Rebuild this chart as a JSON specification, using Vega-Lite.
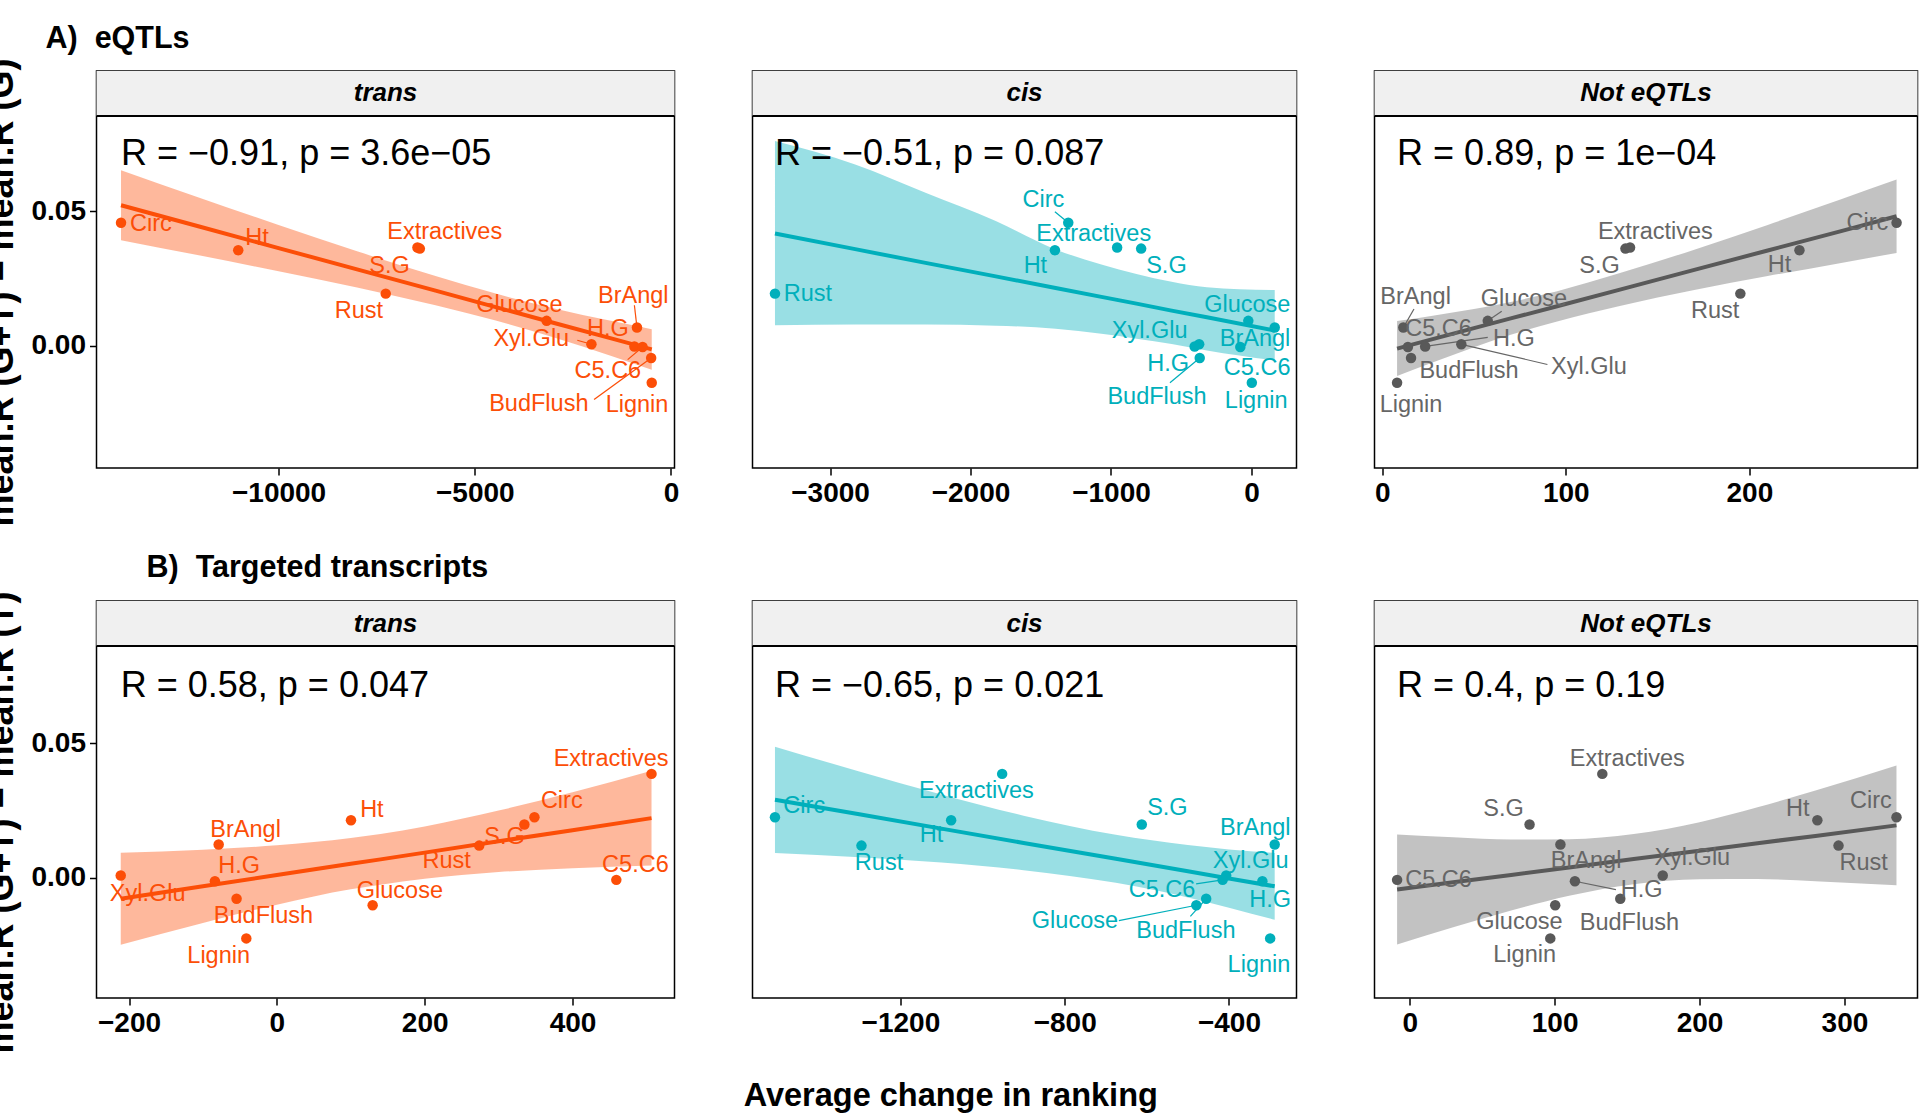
{
 "$schema": "https://vega.github.io/schema/vega-lite/v6.json",
 "padding": {"left": -18.5, "top": 23, "right": 5, "bottom": 5},
 "title": {"text": "Average change in ranking", "orient": "bottom", "anchor": "middle", "fontSize": 32.5, "fontWeight": "bold", "color": "black", "offset": 26},
 "bounds": "flush",
 "columns": 3,
 "spacing": {"row": 133, "column": 78},
 "resolve": {"scale": {"x": "independent", "y": "independent"}},
 "datasets": {
  "strips": [
   {"panel": "A_trans", "label": "trans"}, {"panel": "A_cis", "label": "cis"}, {"panel": "A_not", "label": "Not eQTLs"},
   {"panel": "B_trans", "label": "trans"}, {"panel": "B_cis", "label": "cis"}, {"panel": "B_not", "label": "Not eQTLs"}
  ],
  "stats": [
   {"panel": "A_trans", "label": "R = −0.91, p = 3.6e−05", "x": -14015, "y": 0.067},
   {"panel": "A_cis", "label": "R = −0.51, p = 0.087", "x": -3392, "y": 0.067},
   {"panel": "A_not", "label": "R = 0.89, p = 1e−04", "x": 8.1, "y": 0.067},
   {"panel": "B_trans", "label": "R = 0.58, p = 0.047", "x": -211.2, "y": 0.067},
   {"panel": "B_cis", "label": "R = −0.65, p = 0.021", "x": -1505.3, "y": 0.067},
   {"panel": "B_not", "label": "R = 0.4, p = 0.19", "x": -8.7, "y": 0.067}
  ],
  "band": [
   {"panel": "A_trans", "x": -14015, "lo": 0.0392, "hi": 0.0652, "fit": 0.0522},
   {"panel": "A_trans", "x": -12000, "lo": 0.0335, "hi": 0.0549, "fit": 0.0442},
   {"panel": "A_trans", "x": -10000, "lo": 0.0277, "hi": 0.0449, "fit": 0.0363},
   {"panel": "A_trans", "x": -8000, "lo": 0.0217, "hi": 0.0351, "fit": 0.0284},
   {"panel": "A_trans", "x": -6000, "lo": 0.0151, "hi": 0.0259, "fit": 0.0205},
   {"panel": "A_trans", "x": -4467, "lo": 0.0094, "hi": 0.0194, "fit": 0.0144},
   {"panel": "A_trans", "x": -3000, "lo": 0.0032, "hi": 0.0140, "fit": 0.0086},
   {"panel": "A_trans", "x": -1500, "lo": -0.0038, "hi": 0.0092, "fit": 0.0027},
   {"panel": "A_trans", "x": -490, "lo": -0.0088, "hi": 0.0062, "fit": -0.0013},
   {"panel": "A_cis", "x": -3392, "lo": 0.0077, "hi": 0.0760, "fit": 0.0417},
   {"panel": "A_cis", "x": -2821, "lo": 0.0079, "hi": 0.0673, "fit": 0.0359},
   {"panel": "A_cis", "x": -2320, "lo": 0.0079, "hi": 0.0568, "fit": 0.0308},
   {"panel": "A_cis", "x": -1820, "lo": 0.0075, "hi": 0.0463, "fit": 0.0258},
   {"panel": "A_cis", "x": -1394, "lo": 0.0064, "hi": 0.0358, "fit": 0.0215},
   {"panel": "A_cis", "x": -1068, "lo": 0.0045, "hi": 0.0302, "fit": 0.0182},
   {"panel": "A_cis", "x": -818, "lo": 0.0027, "hi": 0.0267, "fit": 0.0157},
   {"panel": "A_cis", "x": -568, "lo": 0.0007, "hi": 0.0238, "fit": 0.0131},
   {"panel": "A_cis", "x": -317, "lo": -0.0017, "hi": 0.0218, "fit": 0.0106},
   {"panel": "A_cis", "x": 166, "lo": -0.0054, "hi": 0.0207, "fit": 0.0057},
   {"panel": "A_not", "x": 8.1, "lo": -0.0112, "hi": 0.0092, "fit": -0.0010},
   {"panel": "A_not", "x": 30, "lo": -0.0055, "hi": 0.0115, "fit": 0.0030},
   {"panel": "A_not", "x": 50, "lo": -0.0005, "hi": 0.0137, "fit": 0.0066},
   {"panel": "A_not", "x": 70, "lo": 0.0041, "hi": 0.0163, "fit": 0.0102},
   {"panel": "A_not", "x": 95.3, "lo": 0.0091, "hi": 0.0203, "fit": 0.0147},
   {"panel": "A_not", "x": 130, "lo": 0.0149, "hi": 0.0271, "fit": 0.0210},
   {"panel": "A_not", "x": 170, "lo": 0.0207, "hi": 0.0357, "fit": 0.0282},
   {"panel": "A_not", "x": 210, "lo": 0.0259, "hi": 0.0449, "fit": 0.0354},
   {"panel": "A_not", "x": 250, "lo": 0.0308, "hi": 0.0544, "fit": 0.0426},
   {"panel": "A_not", "x": 280.2, "lo": 0.0345, "hi": 0.0617, "fit": 0.0481},
   {"panel": "B_trans", "x": -211.2, "lo": -0.0248, "hi": 0.0094, "fit": -0.0077},
   {"panel": "B_trans", "x": -100, "lo": -0.0167, "hi": 0.0105, "fit": -0.0031},
   {"panel": "B_trans", "x": 0, "lo": -0.0099, "hi": 0.0121, "fit": 0.0011},
   {"panel": "B_trans", "x": 100, "lo": -0.0042, "hi": 0.0148, "fit": 0.0053},
   {"panel": "B_trans", "x": 140.3, "lo": -0.0025, "hi": 0.0163, "fit": 0.0069},
   {"panel": "B_trans", "x": 200, "lo": -0.0003, "hi": 0.0191, "fit": 0.0094},
   {"panel": "B_trans", "x": 300, "lo": 0.0022, "hi": 0.0250, "fit": 0.0136},
   {"panel": "B_trans", "x": 400, "lo": 0.0036, "hi": 0.0318, "fit": 0.0177},
   {"panel": "B_trans", "x": 506.9, "lo": 0.0046, "hi": 0.0398, "fit": 0.0222},
   {"panel": "B_cis", "x": -1505.3, "lo": 0.0093, "hi": 0.0487, "fit": 0.0290},
   {"panel": "B_cis", "x": -1300, "lo": 0.0077, "hi": 0.0395, "fit": 0.0236},
   {"panel": "B_cis", "x": -1100, "lo": 0.0057, "hi": 0.0310, "fit": 0.0183},
   {"panel": "B_cis", "x": -900, "lo": 0.0029, "hi": 0.0231, "fit": 0.0130},
   {"panel": "B_cis", "x": -675.4, "lo": -0.0018, "hi": 0.0160, "fit": 0.0071},
   {"panel": "B_cis", "x": -500, "lo": -0.0072, "hi": 0.0122, "fit": 0.0025},
   {"panel": "B_cis", "x": -400, "lo": -0.0110, "hi": 0.0106, "fit": -0.0002},
   {"panel": "B_cis", "x": -288.7, "lo": -0.0155, "hi": 0.0093, "fit": -0.0031},
   {"panel": "B_not", "x": -8.7, "lo": -0.0247, "hi": 0.0161, "fit": -0.0043},
   {"panel": "B_not", "x": 30, "lo": -0.0183, "hi": 0.0151, "fit": -0.0016},
   {"panel": "B_not", "x": 70, "lo": -0.0121, "hi": 0.0143, "fit": 0.0011},
   {"panel": "B_not", "x": 110, "lo": -0.0066, "hi": 0.0144, "fit": 0.0039},
   {"panel": "B_not", "x": 154.6, "lo": -0.0023, "hi": 0.0163, "fit": 0.0070},
   {"panel": "B_not", "x": 200, "lo": -0.0005, "hi": 0.0207, "fit": 0.0101},
   {"panel": "B_not", "x": 240, "lo": -0.0004, "hi": 0.0262, "fit": 0.0129},
   {"panel": "B_not", "x": 280, "lo": -0.0012, "hi": 0.0324, "fit": 0.0156},
   {"panel": "B_not", "x": 335.9, "lo": -0.0027, "hi": 0.0417, "fit": 0.0195}
  ],
  "pts": [
   {"panel": "A_trans", "trait": "Circ", "x": -14015, "y": 0.0457, "lx": -13254, "ly": 0.0454},
   {"panel": "A_trans", "trait": "Ht", "x": -11028, "y": 0.0355, "lx": -10552, "ly": 0.0399},
   {"panel": "A_trans", "trait": "Extractives", "x": -6461, "y": 0.0365, "lx": -5766, "ly": 0.0423},
   {"panel": "A_trans", "trait": "S.G", "x": -6400, "y": 0.0361, "lx": -7174, "ly": 0.0296},
   {"panel": "A_trans", "trait": "Rust", "x": -7269, "y": 0.0194, "lx": -7954, "ly": 0.0131},
   {"panel": "A_trans", "trait": "Glucose", "x": -3168, "y": 0.0093, "lx": -3863, "ly": 0.0151},
   {"panel": "A_trans", "trait": "BrAngl", "x": -866, "y": 0.0068, "lx": -961, "ly": 0.0184, "sx": -932, "sy": 0.0151},
   {"panel": "A_trans", "trait": "H.G", "x": -932, "y": -0.0002, "lx": -1608, "ly": 0.0063},
   {"panel": "A_trans", "trait": "Xyl.Glu", "x": -2027, "y": 0.0006, "lx": -3559, "ly": 0.0024, "sx": -2388, "sy": 0.0021},
   {"panel": "A_trans", "trait": "C5.C6", "x": -723, "y": -0.0004, "lx": -1608, "ly": -0.0092, "sx": -1104, "sy": -0.0051},
   {"panel": "A_trans", "trait": "BudFlush", "x": -505, "y": -0.0045, "lx": -3368, "ly": -0.0215, "sx": -1960, "sy": -0.0199},
   {"panel": "A_trans", "trait": "Lignin", "x": -490, "y": -0.0137, "lx": -866, "ly": -0.0218},
   {"panel": "A_cis", "trait": "Rust", "x": -3392, "y": 0.0194, "lx": -3158, "ly": 0.0191},
   {"panel": "A_cis", "trait": "Circ", "x": -1304, "y": 0.0457, "lx": -1481, "ly": 0.0540, "sx": -1399, "sy": 0.0498},
   {"panel": "A_cis", "trait": "Ht", "x": -1399, "y": 0.0355, "lx": -1538, "ly": 0.0296},
   {"panel": "A_cis", "trait": "Extractives", "x": -956, "y": 0.0365, "lx": -1123, "ly": 0.0417},
   {"panel": "A_cis", "trait": "S.G", "x": -785, "y": 0.0361, "lx": -605, "ly": 0.0296},
   {"panel": "A_cis", "trait": "Glucose", "x": -22, "y": 0.0093, "lx": -29, "ly": 0.0150},
   {"panel": "A_cis", "trait": "BrAngl", "x": 166, "y": 0.0068, "lx": 26, "ly": 0.0027},
   {"panel": "A_cis", "trait": "Xyl.Glu", "x": -372, "y": 0.0006, "lx": -725, "ly": 0.0054},
   {"panel": "A_cis", "trait": "H.G", "x": -404, "y": -0.0002, "lx": -592, "ly": -0.0067},
   {"panel": "A_cis", "trait": "C5.C6", "x": -79, "y": -0.0004, "lx": 41, "ly": -0.0082},
   {"panel": "A_cis", "trait": "BudFlush", "x": -368, "y": -0.0045, "lx": -672, "ly": -0.0191, "sx": -580, "sy": -0.0137},
   {"panel": "A_cis", "trait": "Lignin", "x": 3, "y": -0.0137, "lx": 34, "ly": -0.0205},
   {"panel": "A_not", "trait": "Lignin", "x": 8.1, "y": -0.0137, "lx": 15.7, "ly": -0.0218},
   {"panel": "A_not", "trait": "BrAngl", "x": 11.5, "y": 0.0068, "lx": 18.2, "ly": 0.0181, "sx": 17.3, "sy": 0.0137},
   {"panel": "A_not", "trait": "C5.C6", "x": 14.0, "y": -0.0004, "lx": 30.7, "ly": 0.0061},
   {"panel": "A_not", "trait": "BudFlush", "x": 15.7, "y": -0.0045, "lx": 47.3, "ly": -0.0092},
   {"panel": "A_not", "trait": "H.G", "x": 23.4, "y": -0.0002, "lx": 71.8, "ly": 0.0026, "sx": 57.5, "sy": 0.0032},
   {"panel": "A_not", "trait": "Xyl.Glu", "x": 43.1, "y": 0.0006, "lx": 112.6, "ly": -0.0079, "sx": 90, "sy": -0.0069},
   {"panel": "A_not", "trait": "Glucose", "x": 57.5, "y": 0.0093, "lx": 77.2, "ly": 0.0175, "sx": 65.1, "sy": 0.0129},
   {"panel": "A_not", "trait": "S.G", "x": 132.5, "y": 0.0361, "lx": 118.4, "ly": 0.0296},
   {"panel": "A_not", "trait": "Extractives", "x": 135.0, "y": 0.0365, "lx": 148.8, "ly": 0.0423},
   {"panel": "A_not", "trait": "Rust", "x": 195.1, "y": 0.0194, "lx": 181.4, "ly": 0.0131},
   {"panel": "A_not", "trait": "Ht", "x": 227.3, "y": 0.0355, "lx": 216.4, "ly": 0.0300},
   {"panel": "A_not", "trait": "Circ", "x": 280.2, "y": 0.0457, "lx": 264.3, "ly": 0.0457},
   {"panel": "B_trans", "trait": "Xyl.Glu", "x": -211.2, "y": 0.0009, "lx": -174.8, "ly": -0.0059},
   {"panel": "B_trans", "trait": "H.G", "x": -83.8, "y": -0.0012, "lx": -50.9, "ly": 0.0046},
   {"panel": "B_trans", "trait": "BrAngl", "x": -78.7, "y": 0.0124, "lx": -42.3, "ly": 0.0179},
   {"panel": "B_trans", "trait": "BudFlush", "x": -54.5, "y": -0.0077, "lx": -18.1, "ly": -0.0142},
   {"panel": "B_trans", "trait": "Lignin", "x": -41.3, "y": -0.0224, "lx": -78.7, "ly": -0.0290},
   {"panel": "B_trans", "trait": "Ht", "x": 100.3, "y": 0.0214, "lx": 128.6, "ly": 0.0253},
   {"panel": "B_trans", "trait": "Glucose", "x": 129.6, "y": -0.0101, "lx": 166.5, "ly": -0.0047},
   {"panel": "B_trans", "trait": "Rust", "x": 273.8, "y": 0.0120, "lx": 229.7, "ly": 0.0062},
   {"panel": "B_trans", "trait": "S.G", "x": 334.9, "y": 0.0198, "lx": 308.1, "ly": 0.0151},
   {"panel": "B_trans", "trait": "Circ", "x": 348.5, "y": 0.0225, "lx": 385.5, "ly": 0.0284},
   {"panel": "B_trans", "trait": "C5.C6", "x": 459.3, "y": -0.0007, "lx": 485.1, "ly": 0.0049},
   {"panel": "B_trans", "trait": "Extractives", "x": 506.9, "y": 0.0386, "lx": 452.2, "ly": 0.0441},
   {"panel": "B_cis", "trait": "Circ", "x": -1505.3, "y": 0.0225, "lx": -1434, "ly": 0.0266},
   {"panel": "B_cis", "trait": "Rust", "x": -1294.7, "y": 0.0120, "lx": -1252, "ly": 0.0056},
   {"panel": "B_cis", "trait": "Ht", "x": -1076.4, "y": 0.0214, "lx": -1124, "ly": 0.0158},
   {"panel": "B_cis", "trait": "Extractives", "x": -952.2, "y": 0.0386, "lx": -1015, "ly": 0.0321},
   {"panel": "B_cis", "trait": "S.G", "x": -612.3, "y": 0.0198, "lx": -550, "ly": 0.0260},
   {"panel": "B_cis", "trait": "BrAngl", "x": -288.7, "y": 0.0124, "lx": -336, "ly": 0.0185},
   {"panel": "B_cis", "trait": "Xyl.Glu", "x": -406.8, "y": 0.0009, "lx": -347, "ly": 0.0064},
   {"panel": "B_cis", "trait": "C5.C6", "x": -415.4, "y": -0.0007, "lx": -563, "ly": -0.0046, "sx": -480, "sy": -0.0022},
   {"panel": "B_cis", "trait": "H.G", "x": -318.7, "y": -0.0012, "lx": -300, "ly": -0.0080},
   {"panel": "B_cis", "trait": "Glucose", "x": -479.5, "y": -0.0101, "lx": -775, "ly": -0.0161, "sx": -668, "sy": -0.0158},
   {"panel": "B_cis", "trait": "BudFlush", "x": -455.5, "y": -0.0077, "lx": -505, "ly": -0.0195, "sx": -494, "sy": -0.0142},
   {"panel": "B_cis", "trait": "Lignin", "x": -299.7, "y": -0.0224, "lx": -327, "ly": -0.0321},
   {"panel": "B_not", "trait": "C5.C6", "x": -8.7, "y": -0.0007, "lx": 19.9, "ly": -0.0006},
   {"panel": "B_not", "trait": "S.G", "x": 82.7, "y": 0.0198, "lx": 64.7, "ly": 0.0257},
   {"panel": "B_not", "trait": "BrAngl", "x": 104.0, "y": 0.0124, "lx": 121.7, "ly": 0.0062},
   {"panel": "B_not", "trait": "Extractives", "x": 132.9, "y": 0.0386, "lx": 150.1, "ly": 0.0441},
   {"panel": "B_not", "trait": "H.G", "x": 114.0, "y": -0.0012, "lx": 160.1, "ly": -0.0043, "sx": 142.3, "sy": -0.0043},
   {"panel": "B_not", "trait": "Glucose", "x": 100.4, "y": -0.0101, "lx": 75.7, "ly": -0.0163},
   {"panel": "B_not", "trait": "Lignin", "x": 97.0, "y": -0.0224, "lx": 79.3, "ly": -0.0287},
   {"panel": "B_not", "trait": "BudFlush", "x": 145.3, "y": -0.0077, "lx": 151.6, "ly": -0.0167},
   {"panel": "B_not", "trait": "Xyl.Glu", "x": 174.6, "y": 0.0009, "lx": 195.0, "ly": 0.0074},
   {"panel": "B_not", "trait": "Ht", "x": 281.3, "y": 0.0214, "lx": 267.7, "ly": 0.0257},
   {"panel": "B_not", "trait": "Rust", "x": 295.9, "y": 0.0120, "lx": 313.3, "ly": 0.0056},
   {"panel": "B_not", "trait": "Circ", "x": 335.9, "y": 0.0225, "lx": 318.2, "ly": 0.0284}
  ]
 },
 "concat": [
  {"width": 578, "height": 397,
   "title": {"text": "A)\u00a0\u00a0eQTLs", "anchor": "start", "frame": "group", "fontSize": 30.5, "fontWeight": "bold", "color": "black", "offset": 3, "dx": -51},
   "layer": [
    {"data": {"name": "band"}, "transform": [{"filter": "datum.panel === 'A_trans'"}],
     "mark": {"type": "area", "color": "#FC4E07", "opacity": 0.4, "interpolate": "monotone"},
     "encoding": {"x": {"field": "x", "type": "quantitative", "scale": {"domain": [-14640, 90], "nice": false, "zero": false}, "axis": {"values": [-10000, -5000, 0], "format": "d", "title": null}},
                  "y": {"field": "lo", "type": "quantitative", "scale": {"domain": [-0.0453, 0.102], "nice": false, "zero": false}, "axis": {"values": [0, 0.05], "format": ".2f", "title": "mean.R (G+T) − mean.R (G)", "titleY": 221}},
                  "y2": {"field": "hi"}}},
    {"data": {"name": "strips"}, "transform": [{"filter": "datum.panel === 'A_trans'"}],
     "mark": {"type": "rect", "color": "#F0F0F0"},
     "encoding": {"x": {"datum": -14640, "type": "quantitative"}, "x2": {"datum": 90}, "y": {"datum": 0.0853, "type": "quantitative"}, "y2": {"datum": 0.102}}},
    {"data": {"name": "strips"}, "transform": [{"filter": "datum.panel === 'A_trans'"}],
     "mark": {"type": "rule", "color": "black", "strokeWidth": 2},
     "encoding": {"x": {"datum": -14640, "type": "quantitative"}, "x2": {"datum": 90}, "y": {"datum": 0.0853, "type": "quantitative"}}},
    {"data": {"name": "strips"}, "transform": [{"filter": "datum.panel === 'A_trans'"}],
     "mark": {"type": "text", "fontSize": 26, "fontWeight": "bold", "fontStyle": "italic", "color": "black"},
     "encoding": {"x": {"datum": -7275, "type": "quantitative"}, "y": {"datum": 0.0937, "type": "quantitative"}, "text": {"field": "label"}}},
    {"data": {"name": "band"}, "transform": [{"filter": "datum.panel === 'A_trans'"}],
     "mark": {"type": "line", "color": "#FC4E07", "strokeWidth": 4},
     "encoding": {"x": {"field": "x", "type": "quantitative"}, "y": {"field": "fit", "type": "quantitative"}}},
    {"data": {"name": "pts"}, "transform": [{"filter": "datum.panel === 'A_trans' && isValid(datum.sx)"}],
     "mark": {"type": "rule", "color": "#FC4E07", "strokeWidth": 1.2},
     "encoding": {"x": {"field": "x", "type": "quantitative"}, "y": {"field": "y", "type": "quantitative"}, "x2": {"field": "sx"}, "y2": {"field": "sy"}}},
    {"data": {"name": "pts"}, "transform": [{"filter": "datum.panel === 'A_trans'"}],
     "mark": {"type": "circle", "color": "#FC4E07", "size": 110, "opacity": 1},
     "encoding": {"x": {"field": "x", "type": "quantitative"}, "y": {"field": "y", "type": "quantitative"}}},
    {"data": {"name": "pts"}, "transform": [{"filter": "datum.panel === 'A_trans'"}],
     "mark": {"type": "text", "color": "#FC4E07", "fontSize": 23.5},
     "encoding": {"x": {"field": "lx", "type": "quantitative"}, "y": {"field": "ly", "type": "quantitative"}, "text": {"field": "trait"}}},
    {"data": {"name": "stats"}, "transform": [{"filter": "datum.panel === 'A_trans'"}],
     "mark": {"type": "text", "align": "left", "baseline": "alphabetic", "fontSize": 36, "color": "black"},
     "encoding": {"x": {"field": "x", "type": "quantitative"}, "y": {"field": "y", "type": "quantitative"}, "text": {"field": "label"}}}
   ]},
  {"width": 544, "height": 397,
   "layer": [
    {"data": {"name": "band"}, "transform": [{"filter": "datum.panel === 'A_cis'"}],
     "mark": {"type": "area", "color": "#00AFBB", "opacity": 0.4, "interpolate": "monotone"},
     "encoding": {"x": {"field": "x", "type": "quantitative", "scale": {"domain": [-3552, 321], "nice": false, "zero": false}, "axis": {"values": [-3000, -2000, -1000, 0], "format": "d", "title": null}},
                  "y": {"field": "lo", "type": "quantitative", "scale": {"domain": [-0.0453, 0.102], "nice": false, "zero": false}, "axis": null},
                  "y2": {"field": "hi"}}},
    {"data": {"name": "strips"}, "transform": [{"filter": "datum.panel === 'A_cis'"}],
     "mark": {"type": "rect", "color": "#F0F0F0"},
     "encoding": {"x": {"datum": -3552, "type": "quantitative"}, "x2": {"datum": 321}, "y": {"datum": 0.0853, "type": "quantitative"}, "y2": {"datum": 0.102}}},
    {"data": {"name": "strips"}, "transform": [{"filter": "datum.panel === 'A_cis'"}],
     "mark": {"type": "rule", "color": "black", "strokeWidth": 2},
     "encoding": {"x": {"datum": -3552, "type": "quantitative"}, "x2": {"datum": 321}, "y": {"datum": 0.0853, "type": "quantitative"}}},
    {"data": {"name": "strips"}, "transform": [{"filter": "datum.panel === 'A_cis'"}],
     "mark": {"type": "text", "fontSize": 26, "fontWeight": "bold", "fontStyle": "italic", "color": "black"},
     "encoding": {"x": {"datum": -1615.5, "type": "quantitative"}, "y": {"datum": 0.0937, "type": "quantitative"}, "text": {"field": "label"}}},
    {"data": {"name": "band"}, "transform": [{"filter": "datum.panel === 'A_cis'"}],
     "mark": {"type": "line", "color": "#00AFBB", "strokeWidth": 4},
     "encoding": {"x": {"field": "x", "type": "quantitative"}, "y": {"field": "fit", "type": "quantitative"}}},
    {"data": {"name": "pts"}, "transform": [{"filter": "datum.panel === 'A_cis' && isValid(datum.sx)"}],
     "mark": {"type": "rule", "color": "#00AFBB", "strokeWidth": 1.2},
     "encoding": {"x": {"field": "x", "type": "quantitative"}, "y": {"field": "y", "type": "quantitative"}, "x2": {"field": "sx"}, "y2": {"field": "sy"}}},
    {"data": {"name": "pts"}, "transform": [{"filter": "datum.panel === 'A_cis'"}],
     "mark": {"type": "circle", "color": "#00AFBB", "size": 110, "opacity": 1},
     "encoding": {"x": {"field": "x", "type": "quantitative"}, "y": {"field": "y", "type": "quantitative"}}},
    {"data": {"name": "pts"}, "transform": [{"filter": "datum.panel === 'A_cis'"}],
     "mark": {"type": "text", "color": "#00AFBB", "fontSize": 23.5},
     "encoding": {"x": {"field": "lx", "type": "quantitative"}, "y": {"field": "ly", "type": "quantitative"}, "text": {"field": "trait"}}},
    {"data": {"name": "stats"}, "transform": [{"filter": "datum.panel === 'A_cis'"}],
     "mark": {"type": "text", "align": "left", "baseline": "alphabetic", "fontSize": 36, "color": "black"},
     "encoding": {"x": {"field": "x", "type": "quantitative"}, "y": {"field": "y", "type": "quantitative"}, "text": {"field": "label"}}}
   ]},
  {"width": 543, "height": 397,
   "layer": [
    {"data": {"name": "band"}, "transform": [{"filter": "datum.panel === 'A_not'"}],
     "mark": {"type": "area", "color": "#666666", "opacity": 0.4, "interpolate": "monotone"},
     "encoding": {"x": {"field": "x", "type": "quantitative", "scale": {"domain": [-4.2, 291.6], "nice": false, "zero": false}, "axis": {"values": [0, 100, 200], "format": "d", "title": null}},
                  "y": {"field": "lo", "type": "quantitative", "scale": {"domain": [-0.0453, 0.102], "nice": false, "zero": false}, "axis": null},
                  "y2": {"field": "hi"}}},
    {"data": {"name": "strips"}, "transform": [{"filter": "datum.panel === 'A_not'"}],
     "mark": {"type": "rect", "color": "#F0F0F0"},
     "encoding": {"x": {"datum": -4.2, "type": "quantitative"}, "x2": {"datum": 291.6}, "y": {"datum": 0.0853, "type": "quantitative"}, "y2": {"datum": 0.102}}},
    {"data": {"name": "strips"}, "transform": [{"filter": "datum.panel === 'A_not'"}],
     "mark": {"type": "rule", "color": "black", "strokeWidth": 2},
     "encoding": {"x": {"datum": -4.2, "type": "quantitative"}, "x2": {"datum": 291.6}, "y": {"datum": 0.0853, "type": "quantitative"}}},
    {"data": {"name": "strips"}, "transform": [{"filter": "datum.panel === 'A_not'"}],
     "mark": {"type": "text", "fontSize": 26, "fontWeight": "bold", "fontStyle": "italic", "color": "black"},
     "encoding": {"x": {"datum": 143.7, "type": "quantitative"}, "y": {"datum": 0.0937, "type": "quantitative"}, "text": {"field": "label"}}},
    {"data": {"name": "band"}, "transform": [{"filter": "datum.panel === 'A_not'"}],
     "mark": {"type": "line", "color": "#595959", "strokeWidth": 4},
     "encoding": {"x": {"field": "x", "type": "quantitative"}, "y": {"field": "fit", "type": "quantitative"}}},
    {"data": {"name": "pts"}, "transform": [{"filter": "datum.panel === 'A_not' && isValid(datum.sx)"}],
     "mark": {"type": "rule", "color": "#666666", "strokeWidth": 1.2},
     "encoding": {"x": {"field": "x", "type": "quantitative"}, "y": {"field": "y", "type": "quantitative"}, "x2": {"field": "sx"}, "y2": {"field": "sy"}}},
    {"data": {"name": "pts"}, "transform": [{"filter": "datum.panel === 'A_not'"}],
     "mark": {"type": "circle", "color": "#595959", "size": 110, "opacity": 1},
     "encoding": {"x": {"field": "x", "type": "quantitative"}, "y": {"field": "y", "type": "quantitative"}}},
    {"data": {"name": "pts"}, "transform": [{"filter": "datum.panel === 'A_not'"}],
     "mark": {"type": "text", "color": "#666666", "fontSize": 23.5},
     "encoding": {"x": {"field": "lx", "type": "quantitative"}, "y": {"field": "ly", "type": "quantitative"}, "text": {"field": "trait"}}},
    {"data": {"name": "stats"}, "transform": [{"filter": "datum.panel === 'A_not'"}],
     "mark": {"type": "text", "align": "left", "baseline": "alphabetic", "fontSize": 36, "color": "black"},
     "encoding": {"x": {"field": "x", "type": "quantitative"}, "y": {"field": "y", "type": "quantitative"}, "text": {"field": "label"}}}
   ]},
  {"width": 578, "height": 397,
   "title": {"text": "B)\u00a0\u00a0Targeted transcripts", "anchor": "start", "frame": "group", "fontSize": 30.5, "fontWeight": "bold", "color": "black", "offset": 7, "dx": 50},
   "layer": [
    {"data": {"name": "band"}, "transform": [{"filter": "datum.panel === 'B_trans'"}],
     "mark": {"type": "area", "color": "#FC4E07", "opacity": 0.4, "interpolate": "monotone"},
     "encoding": {"x": {"field": "x", "type": "quantitative", "scale": {"domain": [-244, 538], "nice": false, "zero": false}, "axis": {"values": [-200, 0, 200, 400], "format": "d", "title": null}},
                  "y": {"field": "lo", "type": "quantitative", "scale": {"domain": [-0.0445, 0.1027], "nice": false, "zero": false}, "axis": {"values": [0, 0.05], "format": ".2f", "title": "mean.R (G+T) − mean.R (T)", "titleY": 221}},
                  "y2": {"field": "hi"}}},
    {"data": {"name": "strips"}, "transform": [{"filter": "datum.panel === 'B_trans'"}],
     "mark": {"type": "rect", "color": "#F0F0F0"},
     "encoding": {"x": {"datum": -244, "type": "quantitative"}, "x2": {"datum": 538}, "y": {"datum": 0.086, "type": "quantitative"}, "y2": {"datum": 0.1027}}},
    {"data": {"name": "strips"}, "transform": [{"filter": "datum.panel === 'B_trans'"}],
     "mark": {"type": "rule", "color": "black", "strokeWidth": 2},
     "encoding": {"x": {"datum": -244, "type": "quantitative"}, "x2": {"datum": 538}, "y": {"datum": 0.086, "type": "quantitative"}}},
    {"data": {"name": "strips"}, "transform": [{"filter": "datum.panel === 'B_trans'"}],
     "mark": {"type": "text", "fontSize": 26, "fontWeight": "bold", "fontStyle": "italic", "color": "black"},
     "encoding": {"x": {"datum": 147, "type": "quantitative"}, "y": {"datum": 0.0943, "type": "quantitative"}, "text": {"field": "label"}}},
    {"data": {"name": "band"}, "transform": [{"filter": "datum.panel === 'B_trans'"}],
     "mark": {"type": "line", "color": "#FC4E07", "strokeWidth": 4},
     "encoding": {"x": {"field": "x", "type": "quantitative"}, "y": {"field": "fit", "type": "quantitative"}}},
    {"data": {"name": "pts"}, "transform": [{"filter": "datum.panel === 'B_trans' && isValid(datum.sx)"}],
     "mark": {"type": "rule", "color": "#FC4E07", "strokeWidth": 1.2},
     "encoding": {"x": {"field": "x", "type": "quantitative"}, "y": {"field": "y", "type": "quantitative"}, "x2": {"field": "sx"}, "y2": {"field": "sy"}}},
    {"data": {"name": "pts"}, "transform": [{"filter": "datum.panel === 'B_trans'"}],
     "mark": {"type": "circle", "color": "#FC4E07", "size": 110, "opacity": 1},
     "encoding": {"x": {"field": "x", "type": "quantitative"}, "y": {"field": "y", "type": "quantitative"}}},
    {"data": {"name": "pts"}, "transform": [{"filter": "datum.panel === 'B_trans'"}],
     "mark": {"type": "text", "color": "#FC4E07", "fontSize": 23.5},
     "encoding": {"x": {"field": "lx", "type": "quantitative"}, "y": {"field": "ly", "type": "quantitative"}, "text": {"field": "trait"}}},
    {"data": {"name": "stats"}, "transform": [{"filter": "datum.panel === 'B_trans'"}],
     "mark": {"type": "text", "align": "left", "baseline": "alphabetic", "fontSize": 36, "color": "black"},
     "encoding": {"x": {"field": "x", "type": "quantitative"}, "y": {"field": "y", "type": "quantitative"}, "text": {"field": "label"}}}
   ]},
  {"width": 544, "height": 397,
   "layer": [
    {"data": {"name": "band"}, "transform": [{"filter": "datum.panel === 'B_cis'"}],
     "mark": {"type": "area", "color": "#00AFBB", "opacity": 0.4, "interpolate": "monotone"},
     "encoding": {"x": {"field": "x", "type": "quantitative", "scale": {"domain": [-1560, -235.6], "nice": false, "zero": false}, "axis": {"values": [-1200, -800, -400], "format": "d", "title": null}},
                  "y": {"field": "lo", "type": "quantitative", "scale": {"domain": [-0.0445, 0.1027], "nice": false, "zero": false}, "axis": null},
                  "y2": {"field": "hi"}}},
    {"data": {"name": "strips"}, "transform": [{"filter": "datum.panel === 'B_cis'"}],
     "mark": {"type": "rect", "color": "#F0F0F0"},
     "encoding": {"x": {"datum": -1560, "type": "quantitative"}, "x2": {"datum": -235.6}, "y": {"datum": 0.086, "type": "quantitative"}, "y2": {"datum": 0.1027}}},
    {"data": {"name": "strips"}, "transform": [{"filter": "datum.panel === 'B_cis'"}],
     "mark": {"type": "rule", "color": "black", "strokeWidth": 2},
     "encoding": {"x": {"datum": -1560, "type": "quantitative"}, "x2": {"datum": -235.6}, "y": {"datum": 0.086, "type": "quantitative"}}},
    {"data": {"name": "strips"}, "transform": [{"filter": "datum.panel === 'B_cis'"}],
     "mark": {"type": "text", "fontSize": 26, "fontWeight": "bold", "fontStyle": "italic", "color": "black"},
     "encoding": {"x": {"datum": -897.8, "type": "quantitative"}, "y": {"datum": 0.0943, "type": "quantitative"}, "text": {"field": "label"}}},
    {"data": {"name": "band"}, "transform": [{"filter": "datum.panel === 'B_cis'"}],
     "mark": {"type": "line", "color": "#00AFBB", "strokeWidth": 4},
     "encoding": {"x": {"field": "x", "type": "quantitative"}, "y": {"field": "fit", "type": "quantitative"}}},
    {"data": {"name": "pts"}, "transform": [{"filter": "datum.panel === 'B_cis' && isValid(datum.sx)"}],
     "mark": {"type": "rule", "color": "#00AFBB", "strokeWidth": 1.2},
     "encoding": {"x": {"field": "x", "type": "quantitative"}, "y": {"field": "y", "type": "quantitative"}, "x2": {"field": "sx"}, "y2": {"field": "sy"}}},
    {"data": {"name": "pts"}, "transform": [{"filter": "datum.panel === 'B_cis'"}],
     "mark": {"type": "circle", "color": "#00AFBB", "size": 110, "opacity": 1},
     "encoding": {"x": {"field": "x", "type": "quantitative"}, "y": {"field": "y", "type": "quantitative"}}},
    {"data": {"name": "pts"}, "transform": [{"filter": "datum.panel === 'B_cis'"}],
     "mark": {"type": "text", "color": "#00AFBB", "fontSize": 23.5},
     "encoding": {"x": {"field": "lx", "type": "quantitative"}, "y": {"field": "ly", "type": "quantitative"}, "text": {"field": "trait"}}},
    {"data": {"name": "stats"}, "transform": [{"filter": "datum.panel === 'B_cis'"}],
     "mark": {"type": "text", "align": "left", "baseline": "alphabetic", "fontSize": 36, "color": "black"},
     "encoding": {"x": {"field": "x", "type": "quantitative"}, "y": {"field": "y", "type": "quantitative"}, "text": {"field": "label"}}}
   ]},
  {"width": 543, "height": 397,
   "layer": [
    {"data": {"name": "band"}, "transform": [{"filter": "datum.panel === 'B_not'"}],
     "mark": {"type": "area", "color": "#666666", "opacity": 0.4, "interpolate": "monotone"},
     "encoding": {"x": {"field": "x", "type": "quantitative", "scale": {"domain": [-24.3, 350.4], "nice": false, "zero": false}, "axis": {"values": [0, 100, 200, 300], "format": "d", "title": null}},
                  "y": {"field": "lo", "type": "quantitative", "scale": {"domain": [-0.0445, 0.1027], "nice": false, "zero": false}, "axis": null},
                  "y2": {"field": "hi"}}},
    {"data": {"name": "strips"}, "transform": [{"filter": "datum.panel === 'B_not'"}],
     "mark": {"type": "rect", "color": "#F0F0F0"},
     "encoding": {"x": {"datum": -24.3, "type": "quantitative"}, "x2": {"datum": 350.4}, "y": {"datum": 0.086, "type": "quantitative"}, "y2": {"datum": 0.1027}}},
    {"data": {"name": "strips"}, "transform": [{"filter": "datum.panel === 'B_not'"}],
     "mark": {"type": "rule", "color": "black", "strokeWidth": 2},
     "encoding": {"x": {"datum": -24.3, "type": "quantitative"}, "x2": {"datum": 350.4}, "y": {"datum": 0.086, "type": "quantitative"}}},
    {"data": {"name": "strips"}, "transform": [{"filter": "datum.panel === 'B_not'"}],
     "mark": {"type": "text", "fontSize": 26, "fontWeight": "bold", "fontStyle": "italic", "color": "black"},
     "encoding": {"x": {"datum": 163.05, "type": "quantitative"}, "y": {"datum": 0.0943, "type": "quantitative"}, "text": {"field": "label"}}},
    {"data": {"name": "band"}, "transform": [{"filter": "datum.panel === 'B_not'"}],
     "mark": {"type": "line", "color": "#595959", "strokeWidth": 4},
     "encoding": {"x": {"field": "x", "type": "quantitative"}, "y": {"field": "fit", "type": "quantitative"}}},
    {"data": {"name": "pts"}, "transform": [{"filter": "datum.panel === 'B_not' && isValid(datum.sx)"}],
     "mark": {"type": "rule", "color": "#666666", "strokeWidth": 1.2},
     "encoding": {"x": {"field": "x", "type": "quantitative"}, "y": {"field": "y", "type": "quantitative"}, "x2": {"field": "sx"}, "y2": {"field": "sy"}}},
    {"data": {"name": "pts"}, "transform": [{"filter": "datum.panel === 'B_not'"}],
     "mark": {"type": "circle", "color": "#595959", "size": 110, "opacity": 1},
     "encoding": {"x": {"field": "x", "type": "quantitative"}, "y": {"field": "y", "type": "quantitative"}}},
    {"data": {"name": "pts"}, "transform": [{"filter": "datum.panel === 'B_not'"}],
     "mark": {"type": "text", "color": "#666666", "fontSize": 23.5},
     "encoding": {"x": {"field": "lx", "type": "quantitative"}, "y": {"field": "ly", "type": "quantitative"}, "text": {"field": "trait"}}},
    {"data": {"name": "stats"}, "transform": [{"filter": "datum.panel === 'B_not'"}],
     "mark": {"type": "text", "align": "left", "baseline": "alphabetic", "fontSize": 36, "color": "black"},
     "encoding": {"x": {"field": "x", "type": "quantitative"}, "y": {"field": "y", "type": "quantitative"}, "text": {"field": "label"}}}
   ]}
 ],
 "config": {
  "font": "Liberation Sans",
  "background": "white",
  "view": {"stroke": "black", "strokeWidth": 1.5},
  "axis": {"grid": false, "domain": false, "ticks": true, "tickColor": "black", "tickSize": 7, "tickWidth": 1.5, "labelFontSize": 28, "labelFontWeight": "bold", "labelColor": "black", "labelPadding": 4, "labelFlush": false, "labelOverlap": false, "titleFontSize": 36, "titleFontWeight": "bold", "titleColor": "black", "titlePadding": 11},
  "text": {"font": "Liberation Sans"}
 }
}
